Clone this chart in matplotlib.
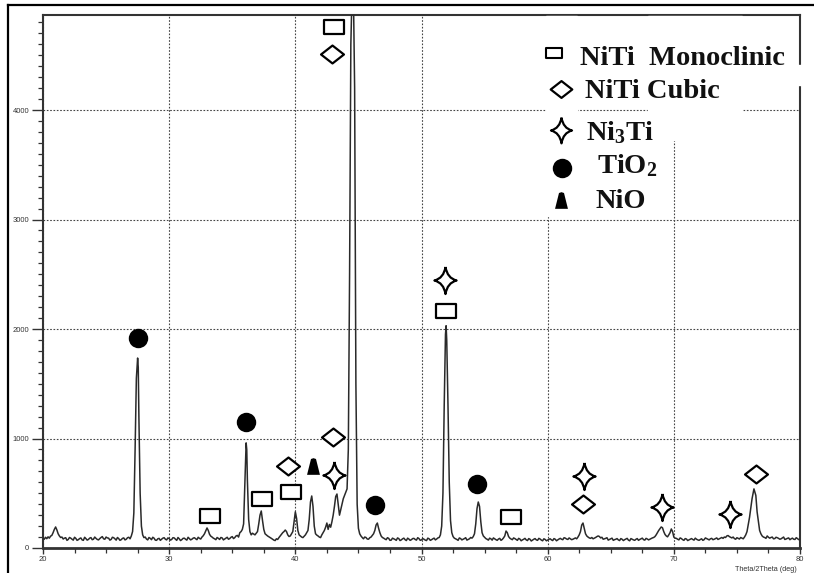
import matplotlib
matplotlib.use("Agg")
import matplotlib.pyplot as plt
import numpy as np
from matplotlib.path import Path
from matplotlib.patches import Rectangle
from matplotlib.lines import Line2D

plt.rcParams['mathtext.fontset'] = 'custom'
plt.rcParams['mathtext.rm'] = 'Liberation Serif:bold'
plt.rcParams['mathtext.bf'] = 'Liberation Serif:bold'

# XRD trace, (2theta [deg], counts)
trace_20_30 = [
    (20.0, 92), (20.1, 80), (20.2, 98), (20.3, 85), (20.4, 102), (20.5, 90), (20.6, 108),
    (20.7, 115), (20.8, 140), (20.9, 170), (21.0, 192), (21.1, 165), (21.2, 130), (21.3, 110),
    (21.4, 96), (21.5, 100), (21.6, 82), (21.7, 90), (21.8, 94), (21.9, 70), (22.0, 78),
    (22.1, 96), (22.2, 90), (22.3, 80), (22.4, 72), (22.5, 98), (22.6, 88), (22.7, 70),
    (22.8, 76), (22.9, 86), (23.0, 92), (23.1, 74), (23.2, 70), (23.3, 98), (23.4, 86),
    (23.5, 72), (23.6, 78), (23.7, 90), (23.8, 95), (23.9, 76), (24.0, 80), (24.1, 100),
    (24.2, 88), (24.3, 78), (24.4, 74), (24.5, 86), (24.6, 96), (24.7, 104), (24.8, 84),
    (24.9, 80), (25.0, 100), (25.1, 92), (25.2, 90), (25.3, 72), (25.4, 78), (25.5, 98),
    (25.6, 94), (25.7, 84), (25.8, 72), (25.9, 96), (26.0, 86), (26.1, 70), (26.2, 76),
    (26.3, 88), (26.4, 92), (26.5, 74), (26.6, 80), (26.7, 94), (26.8, 98), (26.9, 84),
    (27.0, 110), (27.1, 150), (27.2, 320), (27.3, 900), (27.4, 1550), (27.5, 1735),
    (27.55, 1650), (27.6, 1200), (27.7, 500), (27.8, 200), (27.9, 120), (28.0, 95),
    (28.1, 100), (28.2, 82), (28.3, 74), (28.4, 96), (28.5, 88), (28.6, 76), (28.7, 98),
    (28.8, 90), (28.9, 72), (29.0, 70), (29.1, 84), (29.2, 88), (29.3, 70), (29.4, 80),
    (29.5, 90), (29.6, 94), (29.7, 80), (29.8, 74), (29.9, 92),
]
trace_30_40 = [
    (30.0, 86), (30.1, 72), (30.2, 78), (30.3, 94), (30.4, 92), (30.5, 80), (30.6, 70),
    (30.7, 96), (30.8, 84), (30.9, 68), (31.0, 76), (31.1, 88), (31.2, 90), (31.3, 80),
    (31.4, 72), (31.5, 98), (31.6, 86), (31.7, 74), (31.8, 80), (31.9, 90), (32.0, 94),
    (32.1, 84), (32.2, 76), (32.3, 98), (32.4, 88), (32.5, 82), (32.6, 100), (32.7, 112),
    (32.8, 130), (33.0, 183), (33.1, 160), (33.2, 125), (33.3, 108), (33.4, 100), (33.5, 90),
    (33.6, 84), (33.7, 76), (33.8, 96), (33.9, 88), (34.0, 78), (34.1, 96), (34.2, 92),
    (34.3, 74), (34.4, 82), (34.5, 90), (34.6, 98), (34.7, 80), (34.8, 86), (34.9, 98),
    (35.0, 104), (35.1, 86), (35.2, 95), (35.3, 110), (35.4, 115), (35.5, 100), (35.6, 140),
    (35.7, 150), (35.8, 170), (35.9, 220), (36.0, 600), (36.1, 960), (36.15, 900),
    (36.2, 620), (36.3, 260), (36.4, 150), (36.5, 120), (36.6, 135), (36.8, 120),
    (37.0, 150), (37.1, 220), (37.2, 300), (37.3, 338), (37.4, 250), (37.5, 170),
    (37.6, 130), (37.8, 110), (38.0, 96), (38.1, 88), (38.2, 80), (38.3, 72), (38.4, 68),
    (38.5, 84), (38.6, 78), (38.7, 95), (38.8, 110), (38.9, 125), (39.0, 140), (39.1, 150),
    (39.2, 164), (39.3, 150), (39.4, 120), (39.5, 105), (39.6, 110), (39.7, 130),
    (39.8, 150), (39.9, 240),
]
trace_40_50 = [
    (40.0, 330), (40.1, 270), (40.2, 160), (40.3, 120), (40.4, 110), (40.5, 100), (40.6, 95),
    (40.7, 108), (40.8, 120), (40.9, 140), (41.0, 160), (41.1, 260), (41.2, 420), (41.3, 475),
    (41.4, 380), (41.5, 200), (41.6, 130), (41.7, 118), (41.8, 110), (41.9, 100), (42.0, 95),
    (42.1, 120), (42.2, 140), (42.3, 160), (42.4, 190), (42.5, 228), (42.6, 170), (42.7, 215),
    (42.8, 190), (42.9, 240), (43.0, 300), (43.1, 380), (43.2, 470), (43.3, 493), (43.4, 400),
    (43.5, 300), (43.6, 350), (43.8, 450), (44.0, 510), (44.1, 540), (44.2, 900),
    (44.3, 2500), (44.4, 4600), (44.5, 5100), (44.6, 5100), (44.7, 4200), (44.8, 1500),
    (44.9, 400), (45.0, 180), (45.1, 130), (45.2, 110), (45.3, 96), (45.4, 84), (45.5, 100),
    (45.6, 96), (45.7, 82), (45.8, 80), (45.9, 94), (46.0, 100), (46.1, 115), (46.2, 130),
    (46.3, 160), (46.4, 210), (46.5, 228), (46.6, 180), (46.7, 140), (46.8, 110), (46.9, 96),
    (47.0, 90), (47.1, 82), (47.2, 76), (47.3, 94), (47.4, 88), (47.5, 70), (47.6, 72),
    (47.7, 90), (47.8, 84), (47.9, 78), (48.0, 70), (48.1, 92), (48.2, 86), (48.3, 68),
    (48.4, 74), (48.5, 84), (48.6, 90), (48.7, 76), (48.8, 68), (48.9, 90), (49.0, 82),
    (49.1, 70), (49.2, 76), (49.3, 86), (49.4, 88), (49.5, 78), (49.6, 72), (49.7, 94),
    (49.8, 86), (49.9, 70),
]
trace_50_60 = [
    (50.0, 74), (50.1, 86), (50.2, 80), (50.3, 72), (50.4, 68), (50.5, 90), (50.6, 84),
    (50.7, 70), (50.8, 76), (50.9, 84), (51.0, 90), (51.1, 74), (51.2, 82), (51.3, 92),
    (51.4, 96), (51.5, 120), (51.6, 200), (51.7, 500), (51.8, 1300), (51.9, 1950),
    (51.95, 2030), (52.0, 1900), (52.1, 1300), (52.2, 600), (52.3, 250), (52.4, 140),
    (52.5, 105), (52.6, 90), (52.7, 84), (52.8, 78), (52.9, 70), (53.0, 92), (53.1, 86),
    (53.2, 74), (53.3, 80), (53.4, 86), (53.5, 94), (53.6, 72), (53.7, 78), (53.8, 84),
    (53.9, 96), (54.0, 90), (54.1, 104), (54.2, 130), (54.3, 220), (54.4, 360), (54.5, 420),
    (54.6, 380), (54.7, 240), (54.8, 140), (54.9, 110), (55.0, 98), (55.1, 86), (55.2, 80),
    (55.3, 72), (55.4, 90), (55.5, 84), (55.6, 72), (55.7, 92), (55.8, 84), (55.9, 76),
    (56.0, 70), (56.1, 82), (56.2, 88), (56.3, 70), (56.4, 78), (56.5, 92), (56.6, 110),
    (56.7, 155), (56.8, 140), (56.9, 105), (57.0, 90), (57.1, 82), (57.2, 76), (57.3, 92),
    (57.4, 86), (57.5, 78), (57.6, 70), (57.7, 88), (57.8, 82), (57.9, 66), (58.0, 74),
    (58.1, 80), (58.2, 88), (58.3, 74), (58.4, 68), (58.5, 86), (58.6, 80), (58.7, 64),
    (58.8, 72), (58.9, 80), (59.0, 86), (59.1, 74), (59.2, 70), (59.3, 88), (59.4, 82),
    (59.5, 72), (59.6, 66), (59.7, 84), (59.8, 78), (59.9, 66),
]
trace_60_70 = [
    (60.0, 72), (60.1, 80), (60.2, 84), (60.3, 74), (60.4, 68), (60.5, 86), (60.6, 80),
    (60.7, 66), (60.8, 74), (60.9, 82), (61.0, 88), (61.1, 80), (61.2, 76), (61.3, 94),
    (61.4, 90), (61.5, 82), (61.6, 78), (61.7, 92), (61.8, 84), (61.9, 76), (62.0, 80),
    (62.1, 86), (62.2, 92), (62.3, 84), (62.4, 100), (62.5, 120), (62.6, 150), (62.7, 210),
    (62.8, 228), (62.9, 180), (63.0, 130), (63.1, 110), (63.2, 100), (63.3, 92), (63.4, 88),
    (63.5, 96), (63.6, 84), (63.7, 90), (63.8, 96), (63.9, 104), (64.0, 110), (64.1, 105),
    (64.2, 92), (64.3, 98), (64.4, 80), (64.5, 84), (64.6, 88), (64.7, 94), (64.8, 72),
    (64.9, 78), (65.0, 84), (65.1, 90), (65.2, 70), (65.3, 76), (65.4, 80), (65.5, 86),
    (65.6, 74), (65.7, 68), (65.8, 86), (65.9, 80), (66.0, 68), (66.1, 76), (66.2, 82),
    (66.3, 88), (66.4, 72), (66.5, 66), (66.6, 86), (66.7, 80), (66.8, 74), (66.9, 70),
    (67.0, 80), (67.1, 86), (67.2, 70), (67.3, 78), (67.4, 84), (67.5, 90), (67.6, 76),
    (67.7, 72), (67.8, 88), (67.9, 82), (68.0, 74), (68.1, 80), (68.2, 86), (68.3, 92),
    (68.4, 96), (68.5, 104), (68.6, 120), (68.7, 140), (68.8, 160), (69.0, 192), (69.1, 185),
    (69.2, 150), (69.3, 124), (69.4, 110), (69.5, 102), (69.6, 120), (69.7, 140), (69.8, 174),
    (69.9, 150),
]
trace_70_80 = [
    (70.0, 100), (70.1, 90), (70.2, 88), (70.3, 80), (70.4, 74), (70.5, 92), (70.6, 86),
    (70.7, 76), (70.8, 70), (70.9, 86), (71.0, 82), (71.1, 68), (71.2, 74), (71.3, 80),
    (71.4, 86), (71.5, 78), (71.6, 72), (71.7, 90), (71.8, 80), (71.9, 74), (72.0, 70),
    (72.1, 78), (72.2, 84), (72.3, 70), (72.4, 76), (72.5, 92), (72.6, 86), (72.7, 80),
    (72.8, 74), (72.9, 84), (73.0, 88), (73.1, 76), (73.2, 80), (73.3, 86), (73.4, 92),
    (73.5, 78), (73.6, 84), (73.7, 90), (73.8, 96), (73.9, 88), (74.0, 100), (74.1, 96),
    (74.2, 110), (74.3, 114), (74.4, 104), (74.5, 98), (74.6, 92), (74.7, 100), (74.8, 86),
    (74.9, 80), (75.0, 94), (75.1, 88), (75.2, 82), (75.3, 96), (75.4, 90), (75.5, 84),
    (75.6, 100), (75.7, 120), (75.8, 150), (76.0, 280), (76.2, 450), (76.35, 540),
    (76.5, 480), (76.6, 330), (76.8, 160), (76.9, 130), (77.0, 110), (77.1, 100), (77.2, 96),
    (77.3, 88), (77.4, 110), (77.5, 98), (77.6, 90), (77.7, 96), (77.8, 100), (77.9, 84),
    (78.0, 86), (78.1, 98), (78.2, 94), (78.3, 88), (78.4, 80), (78.5, 84), (78.6, 92),
    (78.7, 100), (78.8, 78), (78.9, 82), (79.0, 88), (79.1, 92), (79.2, 76), (79.3, 84),
    (79.4, 90), (79.5, 80), (79.6, 78), (79.7, 94), (79.8, 86), (79.9, 76), (80.0, 80),
]

# phase marker positions (2theta, counts)
monoclinic_x = [33.2, 37.35, 39.65, 43.05, 51.93, 57.08]
monoclinic_y = [292, 447, 511, 4758, 2164, 283]
cubic_x = [39.4, 42.9, 42.98, 62.8, 76.5]
cubic_y = [749, 4511, 1014, 402, 676]
ni3ti_x = [43.06, 51.85, 62.87, 69.05, 74.44]
ni3ti_y = [667, 2447, 658, 374, 310]
tio2_x = [27.53, 36.09, 46.31, 54.39]
tio2_y = [1918, 1151, 393, 584]
nio_x = [41.4]
nio_y = [749]

legend_labels = [r'NiTi  Monoclinic', 'NiTi Cubic', r'$\mathrm{Ni_{3}Ti}$',
                 r'$\mathrm{TiO_{2}}$', 'NiO']

# marker shapes
rect_m = Path([(-1.45, -1), (1.45, -1), (1.45, 1), (-1.45, 1), (-1.45, -1)],
              [Path.MOVETO, Path.LINETO, Path.LINETO, Path.LINETO, Path.CLOSEPOLY])
diamond_m = Path([(0, 1), (1.28, 0), (0, -1), (-1.28, 0), (0, 1)],
                 [Path.MOVETO, Path.LINETO, Path.LINETO, Path.LINETO, Path.CLOSEPOLY])
tip = [(0, 1.22), (1, 0), (0, -1.22), (-1, 0)]
star_verts = [tip[0]]
star_codes = [Path.MOVETO]
for i in range(4):
    a, b = tip[i], tip[(i + 1) % 4]
    ctrl = (0.16 * np.sign(a[0] + b[0]), 0.2 * np.sign(a[1] + b[1]))
    star_verts += [ctrl, b]
    star_codes += [Path.CURVE3, Path.CURVE3]
star_m = Path(star_verts, star_codes)
bell_m = Path([(-0.62, -0.8), (0.62, -0.8), (0.24, 0.72), (0, 0.8), (-0.24, 0.72), (-0.62, -0.8)],
              [Path.MOVETO, Path.LINETO, Path.LINETO, Path.LINETO, Path.LINETO, Path.CLOSEPOLY])

W, H = 814, 573
fig = plt.figure(figsize=(W / 100, H / 100), dpi=100)
fig.patch.set_facecolor('white')
ax = fig.add_axes([43 / W, 1 - 548 / H, (800 - 43) / W, (548 - 15) / H])

trace = sorted(trace_20_30 + trace_30_40 + trace_40_50 + trace_50_60 + trace_60_70 + trace_70_80)
tt = [p[0] for p in trace]
cc = [p[1] for p in trace]
ax.plot(tt, cc, color='#2a2a2a', lw=1.1, zorder=3)

ax.set_xlim(20, 80)
ax.set_ylim(0, 4868)
ax.set_xticks(range(20, 81, 10))
ax.set_xticks(np.arange(20, 80.1, 2.5), minor=True)
ax.set_yticks(range(0, 4001, 1000))
ax.set_yticks(range(0, 4801, 100), minor=True)
ax.tick_params(which='major', direction='out', width=1, color='#333',
               labelsize=5.5, labelcolor='#333')
ax.tick_params(axis='y', which='major', length=8, pad=2)
ax.tick_params(axis='x', which='major', length=4, pad=1.5)
ax.tick_params(which='minor', direction='out', length=3.5, width=0.9, color='#333')
for lab in ax.get_xticklabels() + ax.get_yticklabels():
    lab.set_family('Liberation Sans')
ax.grid(True, which='major', linestyle=(0, (1.5, 1.5)), color='#444', lw=0.8, zorder=1)
for side, s in ax.spines.items():
    s.set_color('#333')
    s.set_linewidth(1.5)
ax.spines['bottom'].set_linewidth(2)

kw = dict(ls='none', color='black', zorder=5)
ax.plot(monoclinic_x, monoclinic_y, marker=rect_m, ms=15, mfc='white', mew=1.6, **kw)
ax.plot(cubic_x, cubic_y, marker=diamond_m, ms=16.5, mfc='white', mew=1.6, **kw)
ax.plot(ni3ti_x, ni3ti_y, marker=star_m, ms=19.5, mfc='white', mew=1.6, **kw)
ax.plot(tio2_x, tio2_y, marker='o', ms=14, mfc='black', mew=0, **kw)
ax.plot(nio_x, nio_y, marker=bell_m, ms=12, mfc='black', mew=0, **kw)

# overlay in pixel units: outer frame, legend block, axis caption
ov = fig.add_axes([0, 0, 1, 1], facecolor='none')
ov.set_xlim(0, W)
ov.set_ylim(H, 0)
ov.axis('off')
ov.add_line(Line2D([8, W], [5, 5], color='black', lw=1.6))
ov.add_line(Line2D([8, 8], [5, H], color='black', lw=1.6))
ov.add_patch(Rectangle((546, 16), 31, 200, color='white', zorder=2))
ov.add_patch(Rectangle((648, 16), 94, 124, color='white', zorder=2))
ov.add_patch(Rectangle((794, 65), 12, 20, color='white', zorder=2))

leg_y = [53, 89, 130, 168, 200]
leg_x = [554, 561, 561, 562, 561]
leg_markers = [(rect_m, 11, 'white', 1.5), (diamond_m, 15.5, 'white', 1.6),
               (star_m, 18.5, 'white', 1.6), ('o', 14, 'black', 0), (bell_m, 12, 'black', 0)]
for (mk, ms, fc, ew), x, y in zip(leg_markers, leg_x, leg_y):
    ov.plot([x], [y], marker=mk, ms=ms, mfc=fc, mew=ew, color='black', ls='none', zorder=3)

text_x = [580, 585, 586, 597, 595]
text_base = [65, 98, 140, 173, 208]
for lbl, x, y in zip(legend_labels, text_x, text_base):
    ov.text(x, y, lbl, fontsize=20.5, fontweight='bold', family='Liberation Serif',
            ha='left', va='baseline', color='#111', zorder=4)

ov.text(797, 573, 'Theta/2Theta (deg)', fontsize=5.2, family='Liberation Sans',
        ha='right', va='bottom', color='#333')

fig.savefig('out.png', dpi=100)
